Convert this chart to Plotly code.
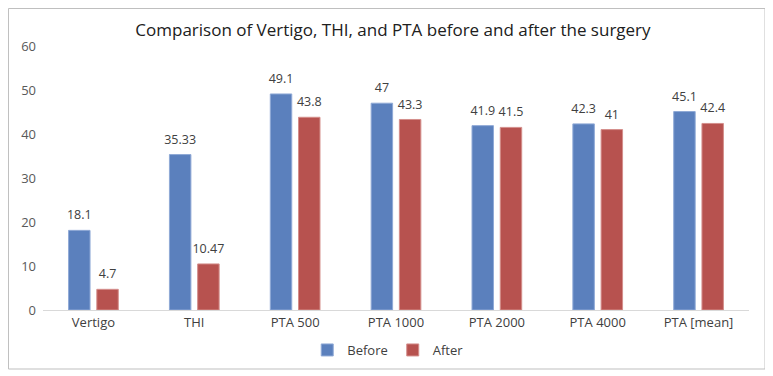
import plotly.graph_objects as go

categories = ["Vertigo", "THI", "PTA 500", "PTA 1000", "PTA 2000", "PTA 4000", "PTA [mean]"]
before = [18.1, 35.33, 49.1, 47, 41.9, 42.3, 45.1]
after = [4.7, 10.47, 43.8, 43.3, 41.5, 41, 42.4]
before_labels = ["18.1", "35.33", "49.1", "47", "41.9", "42.3", "45.1"]
after_labels = ["4.7", "10.47", "43.8", "43.3", "41.5", "41", "42.4"]

font_family = "Open Sans, Liberation Sans, sans-serif"
label_pad = 0.9  # small transparent spacer (data units) between bar top and its label
label_font = dict(size=12.5, color="#404040")

fig = go.Figure()
fig.add_trace(go.Bar(name="Before", x=categories, y=before, offsetgroup="b",
                     marker=dict(color="#5B80BD", line=dict(color="#8FA9D6", width=1))))
fig.add_trace(go.Bar(name="After", x=categories, y=after, offsetgroup="a",
                     marker=dict(color="#B7524F", line=dict(color="#D48E8B", width=1))))
# label carriers: transparent spacer bars sitting on top of the data bars
fig.add_trace(go.Bar(x=categories, y=[label_pad] * len(before), base=before, offsetgroup="b",
                     text=before_labels, textposition="outside", constraintext="none",
                     cliponaxis=False, textfont=label_font, showlegend=False,
                     marker=dict(color="rgba(0,0,0,0)", line=dict(width=0)), hoverinfo="skip"))
fig.add_trace(go.Bar(x=categories, y=[label_pad] * len(after), base=after, offsetgroup="a",
                     text=after_labels, textposition="outside", constraintext="none",
                     cliponaxis=False, textfont=label_font, showlegend=False,
                     marker=dict(color="rgba(0,0,0,0)", line=dict(width=0)), hoverinfo="skip"))

fig.update_layout(
    width=773, height=376,
    margin=dict(l=35, r=32, t=38, b=74),
    paper_bgcolor="white", plot_bgcolor="white",
    font=dict(family=font_family, color="#404040"),
    title=dict(text="Comparison of Vertigo, THI, and PTA before and after the surgery",
               x=0.498, xanchor="center", y=0.941, yanchor="middle",
               font=dict(size=17, color="#202020")),
    barmode="group", bargap=0.44, bargroupgap=0.24,
    showlegend=True,
    legend=dict(orientation="h", x=0.489, xanchor="center", y=-0.1515, yanchor="middle",
                font=dict(size=13, color="#404040"), itemwidth=30,
                traceorder="normal"),
    xaxis=dict(showgrid=False, showline=True, linecolor="#D9D9D9", linewidth=1,
               ticks="", tickfont=dict(size=13, color="#404040")),
    yaxis=dict(range=[0, 60], dtick=10, showgrid=False, showline=False, zeroline=False,
               ticks="", tickfont=dict(size=13, color="#595959"), ticklabelstandoff=6),
    shapes=[dict(type="rect", xref="paper", yref="paper",
                 x0=-0.0489, x1=1.0227, y0=-0.2235, y1=1.142,
                 line=dict(color="#BFBFBF", width=1))],
)

fig.write_html("out.html")
